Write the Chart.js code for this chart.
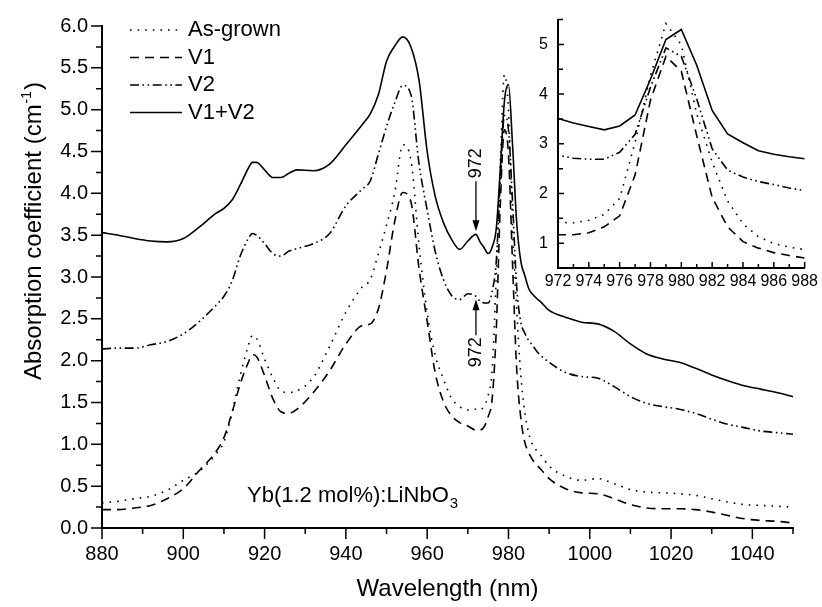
<!DOCTYPE html>
<html>
<head>
<meta charset="utf-8">
<script src="https://cdn.jsdelivr.net/npm/chart.js@4.4.1/dist/chart.umd.min.js"></script>
<style>
  body { margin: 0; background: #fff; }
  #wrap { position: relative; width: 822px; height: 607px; }
  #main { position: absolute; left: 0; top: 0; }
  #inset { position: absolute; left: 500px; top: 0; }
</style>
</head>
<body>
<div id="wrap">
  <canvas id="main" width="822" height="607"></canvas>
  <canvas id="inset" width="322" height="300"></canvas>
</div>
<script>
// Absorption spectra of Yb(1.2 mol%):LiNbO3
const wavelengths = [880, 884, 888, 892, 896, 900, 904, 908, 910, 912, 914, 916, 917, 918,
  920, 922, 924, 926, 928, 932, 936, 940, 944, 946, 948, 950, 952, 954, 956, 958, 960,
  962, 964, 966, 968, 970, 972, 973, 974, 975, 976, 977, 978, 979, 980, 981, 982, 983,
  984, 985, 986, 987, 988, 990, 994, 998, 1002, 1006, 1010, 1014, 1018, 1022, 1026,
  1030, 1034, 1038, 1042, 1046, 1050];

const asGrown = [0.30, 0.32, 0.35, 0.38, 0.45, 0.57, 0.68, 0.88, 1.03, 1.38, 1.82, 2.18, 2.30, 2.27,
  2.02, 1.80, 1.64, 1.62, 1.64, 1.80, 2.17, 2.58, 2.88, 2.97, 3.28, 3.62, 4.00, 4.58, 4.40, 3.38, 2.57,
  2.06, 1.78, 1.55, 1.45, 1.41, 1.42, 1.41, 1.46, 1.58, 1.90, 3.03, 4.37, 5.42, 4.99, 3.60, 2.63, 1.85,
  1.39, 1.13, 0.99, 0.92, 0.87, 0.74, 0.62, 0.57, 0.59, 0.53, 0.46, 0.43, 0.42, 0.41, 0.39,
  0.35, 0.31, 0.28, 0.27, 0.26, 0.25];

const v1 = [0.22, 0.22, 0.24, 0.27, 0.35, 0.47, 0.69, 0.91, 1.08, 1.38, 1.72, 1.98, 2.07, 2.05,
  1.82, 1.55, 1.39, 1.37, 1.42, 1.62, 1.88, 2.20, 2.42, 2.44, 2.62, 3.08, 3.66, 4.01, 3.90, 3.10, 2.47,
  1.85, 1.51, 1.34, 1.26, 1.22, 1.17, 1.17, 1.21, 1.33, 1.55, 2.37, 3.88, 4.76, 4.46, 3.16, 1.92, 1.33,
  1.03, 0.90, 0.81, 0.75, 0.70, 0.59, 0.47, 0.42, 0.41, 0.35, 0.28, 0.24, 0.23, 0.23, 0.22,
  0.19, 0.15, 0.11, 0.09, 0.08, 0.06];

const v2 = [2.14, 2.15, 2.15, 2.19, 2.23, 2.32, 2.47, 2.66, 2.77, 2.95, 3.25, 3.46, 3.52, 3.50,
  3.40, 3.28, 3.25, 3.31, 3.34, 3.40, 3.52, 3.85, 4.05, 4.15, 4.47, 4.80, 5.08, 5.29, 5.18, 4.35, 3.80,
  3.30, 2.97, 2.78, 2.73, 2.80, 2.77, 2.71, 2.69, 2.69, 2.83, 3.19, 4.14, 4.93, 4.76, 3.90, 2.90, 2.47,
  2.33, 2.24, 2.18, 2.11, 2.06, 1.98, 1.86, 1.81, 1.79, 1.69, 1.57, 1.49, 1.45, 1.42, 1.37,
  1.30, 1.24, 1.20, 1.16, 1.14, 1.12];

const v1v2 = [3.53, 3.50, 3.46, 3.43, 3.42, 3.46, 3.60, 3.76, 3.82, 3.92, 4.10, 4.30, 4.37, 4.37,
  4.28, 4.19, 4.19, 4.24, 4.28, 4.27, 4.35, 4.58, 4.82, 4.95, 5.18, 5.58, 5.76, 5.87, 5.75, 5.35, 4.50,
  3.96, 3.65, 3.45, 3.33, 3.43, 3.51, 3.42, 3.35, 3.28, 3.36, 3.58, 4.30, 5.10, 5.30, 4.58, 3.67, 3.20,
  3.02, 2.86, 2.79, 2.74, 2.70, 2.60, 2.52, 2.46, 2.44, 2.35, 2.20, 2.08, 2.02, 1.98, 1.91,
  1.83, 1.76, 1.70, 1.66, 1.62, 1.57];

const seriesNames = ['As-grown', 'V1', 'V2', 'V1+V2'];
const seriesValues = [asGrown, v1, v2, v1v2];
const dashes = [[1.6, 6], [9, 6], [9, 3.5, 1.6, 3.5, 1.6, 3.5], []];

// ticks
const mainXTicks = { min: 880, max: 1050, major: 20, minor: 10 };
const mainYTicks = { min: 0, max: 6, major: 0.5, minor: 0.25 };
const insetXTicks = { min: 972, max: 988, major: 2, minor: 1 };
const insetYTicks = { min: 0.5, max: 5.5, major: 1, minor: 0.5 };

const annotationWl = 972;
const FONT = "'Liberation Sans', Arial, Helvetica, sans-serif";
Chart.defaults.font.family = FONT;
Chart.defaults.color = '#000';

function makeDatasets(smooth) {
  return seriesNames.map((name, k) => ({
    label: name,
    data: wavelengths.map((w, i) => ({ x: w, y: seriesValues[k][i] })),
    borderColor: '#000',
    borderWidth: 1.6,
    borderDash: dashes[k],
    pointRadius: 0,
    fill: false,
    tension: 0,
    cubicInterpolationMode: smooth ? 'monotone' : 'default'
  }));
}

function valueAt(series, w) {
  return series[wavelengths.indexOf(w)];
}

// draws major and minor tick marks (outward or inward) from the scales
const tickMarks = {
  id: 'tickMarks',
  afterDraw(chart, args, opts) {
    const { ctx, chartArea } = chart;
    const { x, y } = chart.scales;
    const dir = opts.inward ? -1 : 1;
    ctx.save();
    ctx.strokeStyle = '#000';
    ctx.lineWidth = 1.5;
    ctx.beginPath();
    const nx = Math.round((opts.x.max - opts.x.min) / opts.x.minor);
    for (let i = 0; i <= nx; i++) {
      const v = opts.x.min + i * opts.x.minor;
      const isMajor = Math.abs(v / opts.x.major - Math.round(v / opts.x.major)) < 1e-6;
      const len = isMajor ? opts.majorLen : opts.minorLen;
      const px = x.getPixelForValue(v);
      ctx.moveTo(px, chartArea.bottom);
      ctx.lineTo(px, chartArea.bottom + dir * len);
    }
    const ny = Math.round((opts.y.max - opts.y.min) / opts.y.minor);
    for (let i = 0; i <= ny; i++) {
      const v = opts.y.min + i * opts.y.minor;
      const isMajor = Math.abs(v / opts.y.major - Math.round(v / opts.y.major)) < 1e-6;
      const len = isMajor ? opts.majorLen : (opts.yMinorLen || opts.minorLen);
      const py = y.getPixelForValue(v);
      ctx.moveTo(chartArea.left, py);
      ctx.lineTo(chartArea.left - dir * len, py);
    }
    ctx.stroke();
    ctx.restore();
  }
};

function arrow(ctx, x, tipY, length, up) {
  const s = up ? 1 : -1;
  ctx.beginPath();
  ctx.moveTo(x, tipY + s * length);
  ctx.lineTo(x, tipY + s * 8);
  ctx.stroke();
  ctx.beginPath();
  ctx.moveTo(x, tipY);
  ctx.lineTo(x - 3.5, tipY + s * 11);
  ctx.lineTo(x + 3.5, tipY + s * 11);
  ctx.closePath();
  ctx.fill();
}

function verticalText(ctx, text, cx, cy) {
  ctx.save();
  ctx.translate(cx, cy);
  ctx.rotate(-Math.PI / 2);
  ctx.textAlign = 'center';
  ctx.textBaseline = 'middle';
  ctx.fillText(text, 0, 0);
  ctx.restore();
}

const annotations = {
  id: 'annotations',
  afterDraw(chart) {
    const { ctx, chartArea } = chart;
    const { x, y } = chart.scales;
    ctx.save();
    ctx.fillStyle = '#000';
    ctx.strokeStyle = '#000';

    // legend
    ctx.font = '22px ' + FONT;
    ctx.textBaseline = 'middle';
    ctx.textAlign = 'left';
    chart.data.datasets.forEach((ds, i) => {
      const ly = chartArea.top + 4 + i * 27.5;
      ctx.lineWidth = 1.6;
      ctx.setLineDash(ds.borderDash);
      ctx.beginPath();
      ctx.moveTo(chartArea.left + 28, ly);
      ctx.lineTo(chartArea.left + 80, ly);
      ctx.stroke();
      ctx.setLineDash([]);
      ctx.fillText(ds.label, chartArea.left + 86, ly);
    });

    // 972 nm markers
    ctx.lineWidth = 1.3;
    ctx.font = '18px ' + FONT;
    const ax = x.getPixelForValue(annotationWl);
    const topTip = y.getPixelForValue(valueAt(v1v2, annotationWl)) - 3;
    arrow(ctx, ax, topTip, 50, false);
    verticalText(ctx, '972', ax, topTip - 68);
    const lowTip = y.getPixelForValue(valueAt(v2, annotationWl)) + 3;
    arrow(ctx, ax, lowTip, 36, true);
    verticalText(ctx, '972', ax, lowTip + 53);

    // sample label
    ctx.textAlign = 'left';
    ctx.textBaseline = 'alphabetic';
    ctx.font = '22px ' + FONT;
    const sx = chartArea.left + 145, sy = chartArea.bottom - 26;
    const main = 'Yb(1.2 mol%):LiNbO';
    ctx.fillText(main, sx, sy);
    const mw = ctx.measureText(main).width;
    ctx.font = '15px ' + FONT;
    ctx.fillText('3', sx + mw + 1, sy + 6);

    // y axis title with superscript
    ctx.save();
    ctx.translate(41, 231);
    ctx.rotate(-Math.PI / 2);
    ctx.textBaseline = 'alphabetic';
    ctx.font = '24px ' + FONT;
    const t1 = 'Absorption coefficient (cm', t3 = ')';
    const w1 = ctx.measureText(t1).width, w3 = ctx.measureText(t3).width;
    ctx.font = '14px ' + FONT;
    const t2 = '-1';
    const w2 = ctx.measureText(t2).width;
    let px = -(w1 + w2 + w3 + 2) / 2;
    ctx.font = '24px ' + FONT;
    ctx.fillText(t1, px, 0);
    px += w1 + 1;
    ctx.font = '14px ' + FONT;
    ctx.fillText(t2, px, -10);
    px += w2 + 1;
    ctx.font = '24px ' + FONT;
    ctx.fillText(t3, px, 0);
    ctx.restore();

    ctx.restore();
  }
};

new Chart(document.getElementById('main'), {
  type: 'line',
  data: { datasets: makeDatasets(true) },
  options: {
    responsive: false,
    animation: false,
    devicePixelRatio: 1,
    layout: { padding: { left: 0, top: 20, right: 29, bottom: 0 } },
    plugins: {
      legend: { display: false },
      tooltip: { enabled: false },
      tickMarks: { x: mainXTicks, y: mainYTicks, inward: false, majorLen: 11, minorLen: 6 }
    },
    scales: {
      x: {
        type: 'linear',
        min: mainXTicks.min,
        max: mainXTicks.max,
        ticks: {
          stepSize: mainXTicks.major,
          includeBounds: false,
          autoSkip: false,
          maxRotation: 0,
          padding: 14,
          font: { size: 20 },
          color: '#000',
          callback: (v) => String(v)
        },
        grid: { display: true, drawOnChartArea: false, drawTicks: false },
        border: { display: true, color: '#000', width: 2 },
        title: {
          display: true,
          text: 'Wavelength (nm)',
          font: { size: 24 },
          color: '#000',
          padding: { top: 0, bottom: 3 }
        },
        afterFit: (scale) => { scale.height = 79; }
      },
      y: {
        type: 'linear',
        min: mainYTicks.min,
        max: mainYTicks.max,
        ticks: {
          stepSize: mainYTicks.major,
          callback: (v) => v.toFixed(1),
          padding: 14,
          font: { size: 20 },
          color: '#000'
        },
        grid: { display: true, drawOnChartArea: false, drawTicks: false },
        border: { display: true, color: '#000', width: 2 },
        afterFit: (scale) => { scale.width = 102; }
      }
    }
  },
  plugins: [tickMarks, annotations]
});

new Chart(document.getElementById('inset'), {
  type: 'line',
  data: { datasets: makeDatasets(false) },
  options: {
    responsive: false,
    animation: false,
    devicePixelRatio: 1,
    layout: { padding: { left: 0, top: 14, right: 15, bottom: 0 } },
    plugins: {
      legend: { display: false },
      tooltip: { enabled: false },
      tickMarks: { x: insetXTicks, y: insetYTicks, inward: true, majorLen: 6, minorLen: 4, yMinorLen: 5 }
    },
    scales: {
      x: {
        type: 'linear',
        min: insetXTicks.min,
        max: insetXTicks.max,
        ticks: {
          stepSize: insetXTicks.minor,
          autoSkip: false,
          maxRotation: 0,
          padding: 4,
          font: { size: 16 },
          color: '#000',
          callback: (v) => (v % insetXTicks.major === 0 ? String(v) : '')
        },
        grid: { display: true, drawOnChartArea: false, drawTicks: false },
        border: { display: true, color: '#000', width: 2 },
        afterFit: (scale) => { scale.height = 32; }
      },
      y: {
        type: 'linear',
        min: insetYTicks.min,
        max: insetYTicks.max,
        ticks: {
          stepSize: insetYTicks.minor,
          autoSkip: false,
          padding: 10,
          font: { size: 16 },
          color: '#000',
          callback: (v) => (Number.isInteger(v) ? String(v) : '')
        },
        grid: { display: true, drawOnChartArea: false, drawTicks: false },
        border: { display: true, color: '#000', width: 2 },
        afterFit: (scale) => { scale.width = 58; }
      }
    }
  },
  plugins: [tickMarks]
});
</script>
</body>
</html>
